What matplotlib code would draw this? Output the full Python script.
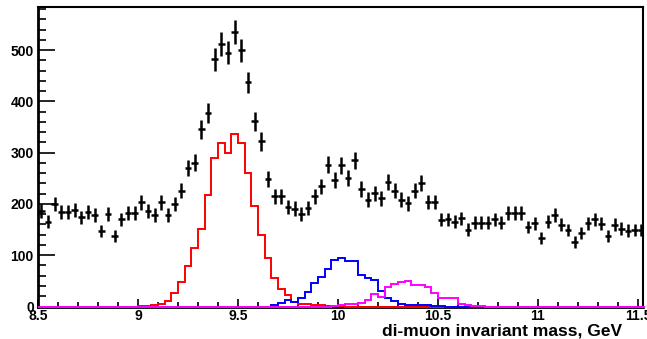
import numpy as np
import matplotlib
matplotlib.use('Agg')
from matplotlib import pyplot as plt
from matplotlib.ticker import MultipleLocator, FuncFormatter

# binning: 91 bins of 1/30 GeV starting at 8.5
x_lo = 8.5
bin_w = 1.0/30
n_bins = 91

data = [187, 165, 200, 185, 185, 188, 174, 185, 178, 147,
        180, 138, 170, 182, 182, 203, 187, 178, 203, 178,
        200, 226, 270, 280, 346, 378, 482, 512, 495, 535,
        500, 437, 361, 322, 248, 215, 215, 194, 191, 181,
        192, 215, 234, 276, 246, 275, 250, 285, 229, 208,
        221, 211, 242, 226, 208, 201, 226, 240, 204, 204,
        169, 170, 165, 172, 150, 163, 163, 163, 170, 163,
        183, 183, 183, 155, 162, 133, 165, 178, 159, 149,
        126, 143, 162, 170, 161, 137, 159, 152, 148, 149, 149]

# signal shapes, first non-empty bin index + contents
ups1s_start = 15
ups1s = [1, 1, 2, 5, 11, 26, 47, 79, 115, 152, 217, 290, 319, 299, 337,
         318, 260, 195, 139, 95, 55, 35, 22, 8, 5, 5, 3, 3, 1, 1, 1]
ups2s_start = 35
ups2s = [3, 6, 12, 9, 16, 28, 46, 57, 74, 90, 95, 88, 88, 62, 55, 52,
         30, 16, 10, 5, 3, 3, 2, 2, 1, 1]
ups3s_start = 44
ups3s = [1, 2, 4, 5, 7, 13, 25, 18, 38, 43, 48, 49, 41, 41, 38, 26,
         17, 17, 17, 4, 2, 1, 1]

x_ticks = [8.5, 9, 9.5, 10, 10.5, 11, 11.5]
y_ticks = [0, 100, 200, 300, 400, 500]


def full(start, vals):
    h = np.zeros(n_bins)
    h[start:start+len(vals)] = vals
    return h


edges = x_lo + bin_w*np.arange(n_bins+1)
centers = 0.5*(edges[:-1] + edges[1:])
data = np.array(data, dtype=float)

plt.rcParams['font.family'] = ['Liberation Sans', 'DejaVu Sans']
fig = plt.figure(figsize=(6.47, 3.39), dpi=100)
ax = fig.add_axes([38/647, 32.5/339, (643-38)/647, (306.5-7)/339])

ax.errorbar(centers, data, yerr=np.sqrt(data), xerr=bin_w/2, fmt='none',
            ecolor='black', elinewidth=1.8, capsize=0, zorder=4)
for h, c in [(full(ups1s_start, ups1s), '#ff0000'),
             (full(ups2s_start, ups2s), '#0000ff'),
             (full(ups3s_start, ups3s), '#ff00ff')]:
    ax.stairs(h, edges, color=c, lw=1.4, zorder=3, clip_on=False)

ax.set_xlim(8.5, 11.525)
ax.set_ylim(0, 584)
ax.set_xticks(x_ticks)
ax.set_yticks(y_ticks)
ax.xaxis.set_minor_locator(MultipleLocator(0.1))
ax.yaxis.set_minor_locator(MultipleLocator(20))
ax.xaxis.set_major_formatter(FuncFormatter(lambda v, p: '%g' % v))

ax.tick_params(which='both', direction='in', top=False, right=False,
               labelsize=10, width=1.2)
ax.tick_params(axis='y', which='major', length=12, pad=3)
ax.tick_params(axis='y', which='minor', length=6)
ax.tick_params(axis='x', which='major', length=6, pad=1.5)
ax.tick_params(axis='x', which='minor', length=3.5)
for lab in ax.get_xticklabels() + ax.get_yticklabels():
    lab.set_fontweight('bold')

for s in ['left', 'bottom']:
    ax.spines[s].set_linewidth(2)
for s in ['top', 'right']:
    ax.spines[s].set_linewidth(1.5)

fig.text(622/647, 1 - 336/339, 'di-muon invariant mass, GeV', ha='right',
         va='baseline', fontsize=12.5, fontweight='bold')

fig.savefig('out.png', dpi=100)
